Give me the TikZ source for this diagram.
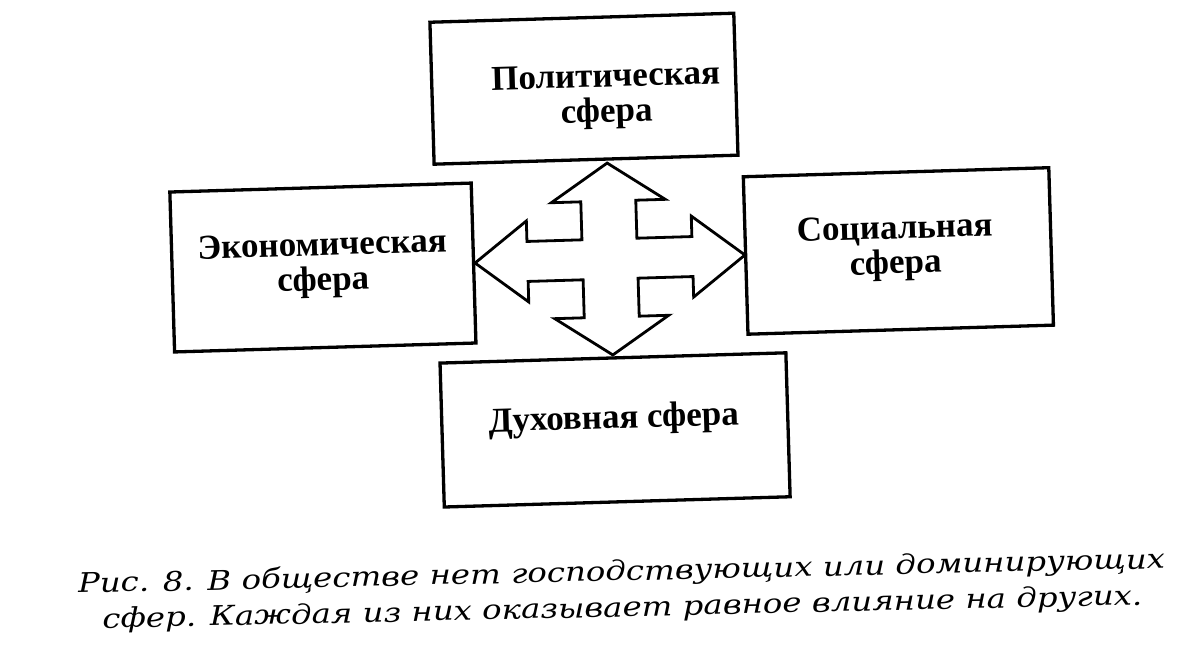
\documentclass[tikz,border=0pt]{standalone}
\usepackage{fontspec}
\setmainfont{Liberation Serif}
\newfontfamily\capfont[FakeStretch=1.2]{DejaVu Serif}
\definecolor{strokecol}{rgb}{0,0,0}

\tikzset{
    sphereBox/.style={draw=strokecol, line width=3.3pt, inner sep=0pt},
    sphereText/.style={font=\fontsize{35}{35}\selectfont\bfseries, align=center, inner sep=0pt},
    crossLine/.style={draw=strokecol, line width=2.8pt, line join=miter},
    captionText/.style={font=\fontsize{27}{36}\selectfont\capfont\itshape, align=center, inner sep=0pt},
}

\begin{document}
\begin{tikzpicture}[x=1pt, y=-1pt]

    \useasboundingbox (0,0) rectangle (1196,650);

    % half sizes of the cross
    \def\armV{27.5}
    \def\armH{20}
    \def\headV{57}
    \def\headH{40.5}

    \begin{scope}[rotate around={1.7:(610,259)}, transform shape]

    % spheres
    \node [sphereBox, minimum width=304, minimum height=142] (polit) at (589,88) {};
    \node [sphereBox, minimum width=301.5, minimum height=160] (econ) at (322.75,259) {};
    \node [sphereBox, minimum width=305.6, minimum height=157.5] (soc) at (898.5,259.5) {};
    \node [sphereBox, minimum width=346, minimum height=144] (spirit) at (610,430) {};

    \node [sphereText] (politText) at ([shift={(22,8.6)}]polit.center) {Политическая\\сфера};
    \node [sphereText] (econText) at ([shift={(0,-2.5)}]econ.center) {Экономическая\\сфера};
    \node [sphereText] (socText) at ([shift={(-3,-2.6)}]soc.center) {Социальная\\сфера};
    \node [sphereText] (spiritText) at ([shift={(-1,-10)}]spirit.center) {Духовная~сфера};

    % four-way arrow
    \draw [crossLine, shift={(610,259)}]
        (0,-96) -- (\headV,-58) -- (\armV,-58) -- (\armV,-\armH)
        -- (82.5,-\armH) -- (82.5,-\headH) -- (135,0) -- (82.5,\headH) -- (82.5,\armH)
        -- (\armV,\armH) -- (\armV,58) -- (\headV,58) -- (0,96) -- (-\headV,58) -- (-\armV,58)
        -- (-\armV,\armH) -- (-82.5,\armH) -- (-82.5,\headH) -- (-135,0) -- (-82.5,-\headH)
        -- (-82.5,-\armH) -- (-\armV,-\armH) -- (-\armV,-58) -- (-\headV,-58) -- cycle;

    \end{scope}

    % caption
    \node [captionText, rotate=1.3] (caption) at (622,591) {Рис. 8. В обществе нет господствующих или доминирующих\\сфер. Каждая из них оказывает равное влияние на других.};

\end{tikzpicture}
\end{document}
